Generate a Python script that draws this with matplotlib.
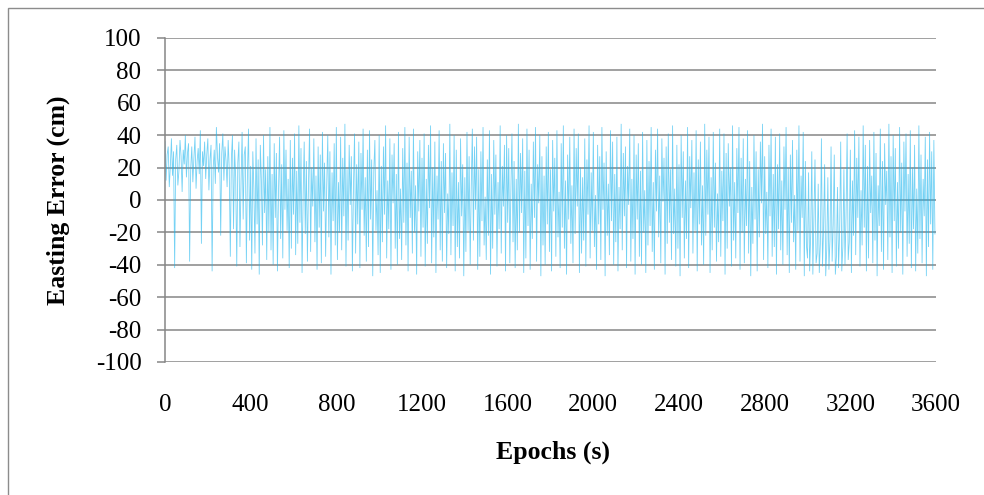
import matplotlib
matplotlib.use("Agg")
import matplotlib.pyplot as plt
from matplotlib.patches import Rectangle

plt.rcParams['font.family'] = ['Liberation Serif', 'DejaVu Serif']

# Easting error per epoch, sampled every 5 s (cm)
epoch_step = 5
easting_error = [
    36, 12, 28, 33, 8, 21, 38, 15, 30, -42, 25, 34, 9, 18, 37, 27, 5, 31, 22, 40,
    14, 29, 35, -38, 19, 33, 11, 26, 39, 7, 24, 32, 16, 43, -27, 30, 21, 36, 13, 28,
    38, 6, 25, 34, -44, 20, 31, 10, 45, 27, 17, 35, -22, 29, 41, 12, 33, 24, 8, 37,
    19, -35, 26, 40, -18, 31, 14, -41, 23, 36, -29, 11, 42, -12, 28, 33, -39, 17, 44, -25,
    21, -43, 30, 7, -33, 38, -15, 25, -46, 34, 12, -28, 40, -8, 19, -37, 27, -20, 45, -31,
    16, -40, 35, -11, 29, -44, 5, 39, -24, 22, -36, 43, -6, 31, -19, 13, -42, 37, -30, 26,
    -9, 41, -34, 18, -27, 46, -14, 32, -45, 3, 36, -21, 24, -38, 10, 44, -32, 20, -4, 38,
    -26, 15, -43, 33, -17, 28, -39, 42, -7, 23, -35, 9, 40, -23, 30, -46, 17, -13, 35, -28,
    45, -37, 11, -20, 39, -31, 26, -10, 47, -41, 19, -25, 34, -3, 27, -44, 8, 41, -33, 22,
    -15, 36, -42, 29, -6, 44, -22, 14, -38, 31, -29, 43, -12, 25, -47, 18, 37, -19, 6, -34,
    40, -45, 21, -26, 33, -9, 46, -36, 12, -18, 38, -43, 28, -2, 35, -30, 16, -40, 42, -24,
    7, -37, 32, -14, 45, -28, 23, -44, 39, -11, 18, -33, 44, -20, 9, -46, 30, -7, 37, -35,
    26, -17, 41, -41, 13, -27, 34, -5, 46, -39, 20, -23, 36, -45, 15, -12, 43, -31, 24, -38,
    35, -8, 29, -42, 4, -21, 47, -34, 17, -16, 40, -44, 31, -29, 11, -36, 38, -10, 22, -47,
    14, -32, 42, -19, 27, -40, 8, 44, -25, 33, -6, 39, -43, 19, -35, 30, -13, 45, -28, 2,
    -37, 25, -22, 43, -46, 16, -30, 37, -9, 28, -41, 11, -18, 46, -33, 21, -4, 34, -44, 40,
    -14, 32, -39, 6, 41, -26, 24, -42, 13, -31, 47, -20, 29, -8, 38, -45, 18, -36, 44, -16,
    31, -43, 10, -24, 36, -11, 45, -38, 22, -2, 40, -47, 27, -28, 15, -40, 33, -15, 42, -32,
    19, -44, 37, -7, 26, -35, 43, -23, 5, -42, 35, -17, 46, -30, 12, -46, 28, -12, 39, -27,
    9, -39, 44, -21, 32, -4, 41, -45, 20, -33, 14, -25, 38, -41, 25, -9, 46, -36, 17, -19,
    42, -29, 3, -43, 34, -15, 27, -37, 45, -6, 23, -47, 30, -22, 10, -34, 43, -13, 36, -40,
    16, -26, 39, -44, 8, -18, 47, -31, 29, -10, 33, -42, 21, -3, 44, -38, 13, -24, 40, -46,
    28, -12, 35, -35, 18, -40, 42, -20, 6, -45, 37, -28, 24, -16, 45, -32, 11, -43, 31, -7,
    44, -23, 15, -39, 38, -1, 26, -46, 33, -27, 41, -14, 19, -37, 46, -21, 7, -41, 34, -30,
    22, -47, 40, -11, 30, -36, 12, -24, 45, -42, 27, -5, 37, -33, 17, -19, 43, -44, 25, -15,
    36, -28, 9, -40, 47, -22, 31, -9, 39, -45, 14, -31, 42, -17, 23, -38, 4, -26, 44, -35,
    18, -13, 41, -46, 29, -30, 35, -4, 20, -41, 46, -25, 11, -36, 32, -8, 45, -43, 26, -20,
    38, -39, 13, -16, 43, -33, 24, -47, 8, -27, 40, -12, 30, -44, 19, -23, 36, -2, 47, -37,
    27, -21, 5, -42, 34, -10, 44, -35, 16, -29, 39, -46, 22, -18, 41, -31, 12, -40, 33, -6,
    45, -34, 20, -45, 28, -14, 37, -26, 3, -43, 31, -19, 46, -38, 15, -11, 42, -47, 24, -28,
    -36, 17, -44, -21, 30, -46, -12, 25, -39, -33, 10, -45, -27, 38, -41, -18, 22, -47, -30, 14,
    -43, -24, 33, -38, -15, 28, -46, -35, 8, -42, -20, 36, -44, -29, 19, -40, -9, 41, -37, -26,
    31, -45, 12, -22, 43, -34, 26, -11, 39, -41, 6, -28, 46, -17, 34, -44, 21, -36, 37, -8,
    15, -39, 42, -25, 29, -47, 9, -16, 44, -32, 24, -43, 35, -3, 18, -37, 47, -23, 27, -45,
    40, -13, 32, -41, 11, -30, 45, -20, 23, -46, 36, -7, 41, -35, 16, -27, 43, -42, 20, -18,
    34, -44, 7, -33, 46, -24, 28, -39, 13, -10, 39, -47, 25, -29, 42, -15, 30, -43, 37, -21,
]
epochs = [i * epoch_step for i in range(len(easting_error))]

y_ticks = list(range(-100, 101, 20))
x_ticks = list(range(0, 3601, 400))

grid_gray = '#868686'

fig = plt.figure(figsize=(9.84, 4.95), dpi=100)
fig.patch.set_facecolor('white')

# chart frame
fig.patches.append(Rectangle((8 / 984, -0.05), 1.2, 1 - 8 / 495 + 0.05,
                             transform=fig.transFigure, fill=False,
                             edgecolor='#8c8c8c', linewidth=1.0))

ax = fig.add_axes([165 / 984, 1 - 362 / 495, (936 - 165) / 984, (362 - 38) / 495])
ax.set_facecolor('none')

for y in y_ticks:
    ax.axhline(y, color=grid_gray, linewidth=1.1, zorder=1)

ax.plot(epochs, easting_error, color='#1AB4EE', linewidth=0.6,
        alpha=0.6, zorder=2, solid_joinstyle='miter')

ax.set_xlim(0, 3600)
ax.set_ylim(-100, 100)
ax.set_xticks(x_ticks)
ax.set_yticks(y_ticks)
ax.set_xticklabels([str(v) for v in x_ticks])
ax.set_yticklabels([str(v) for v in y_ticks])

for side in ('top', 'right', 'bottom'):
    ax.spines[side].set_visible(False)
ax.spines['left'].set_color(grid_gray)
ax.spines['left'].set_linewidth(1.1)
ax.spines['left'].set_zorder(3)

ax.tick_params(axis='y', direction='out', length=6, width=1.1, color=grid_gray,
               pad=11, labelsize=18, labelcolor='black')
ax.tick_params(axis='x', length=0, pad=23, labelsize=18, labelcolor='black')

fig.text(58 / 984, 1 - 200 / 495, 'Easting Error (cm)', rotation=90,
         ha='center', va='center', fontsize=18.5, fontweight='bold')
fig.text(553 / 984, 1 - 452 / 495, 'Epochs (s)', ha='center', va='center',
         fontsize=18.5, fontweight='bold')

fig.savefig('out.png', dpi=100)
